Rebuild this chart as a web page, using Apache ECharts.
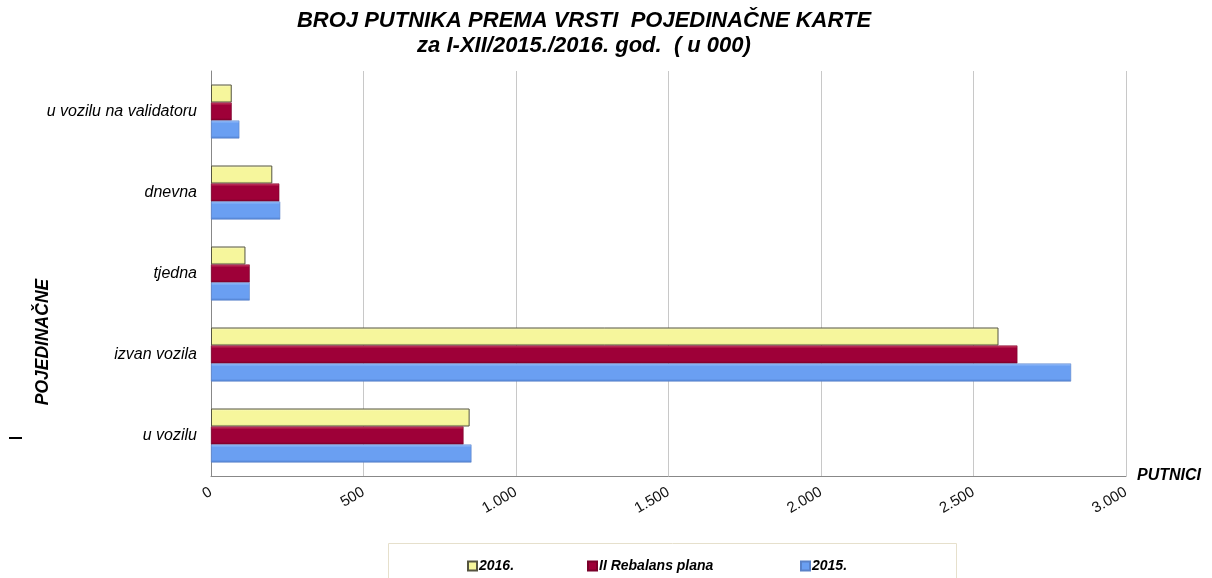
<!DOCTYPE html>
<html>
<head>
<meta charset="utf-8">
<script src="https://cdn.jsdelivr.net/npm/echarts@6/dist/echarts.min.js"></script>
<style>
  html, body { margin: 0; padding: 0; background: #fff; }
  #chart { width: 1212px; height: 578px; }
</style>
</head>
<body>
<div id="chart"></div>
<script>
// categories, bottom to top
const categories = ['u vozilu', 'izvan vozila', 'tjedna', 'dnevna', 'u vozilu na validatoru']
const s2016 = [848, 2582, 113, 201, 68]
const sRebalans = [828, 2644, 127, 224, 68]
const s2015 = [854, 2820, 127, 227, 93]
const seriesNames = ['2016.', 'II Rebalans plana', '2015.']

const font = 'Liberation Sans, Arial, sans-serif'

function grad(light, mid, dark) {
  return new echarts.graphic.LinearGradient(0, 0, 0, 1, [
    { offset: 0, color: light },
    { offset: 0.15, color: mid },
    { offset: 0.85, color: mid },
    { offset: 1, color: dark }
  ])
}

const legendText = { fontFamily: font, fontSize: 14, fontWeight: 'bold', fontStyle: 'italic', color: '#000', padding: [0, 0, 0, -3] }
const legendLeft = [467, 587, 800]

const chart = echarts.init(document.getElementById('chart'))
const option = {
  animation: false,
  textStyle: { fontFamily: font },
  title: {
    text: 'BROJ PUTNIKA PREMA VRSTI  POJEDINAČNE KARTE\nza I-XII/2015./2016. god.  ( u 000)',
    left: 579,
    textAlign: 'center',
    top: 3,
    textStyle: {
      fontFamily: font, fontSize: 22, fontWeight: 'bold', fontStyle: 'italic',
      color: '#000', lineHeight: 25
    }
  },
  legend: seriesNames.map((n, i) => ({
    data: [n],
    left: legendLeft[i],
    top: 559,
    padding: 0,
    itemWidth: 9,
    itemHeight: 9,
    icon: 'rect',
    textStyle: legendText
  })),
  graphic: [
    {
      type: 'rect',
      shape: { x: 388.5, y: 543.5, width: 568, height: 40 },
      style: { fill: 'none', stroke: '#e6e0cc', lineWidth: 1 }
    },
    {
      type: 'text',
      x: 43, y: 342,
      rotation: Math.PI / 2,
      style: {
        text: 'POJEDINAČNE', fill: '#000', align: 'center', verticalAlign: 'middle',
        font: 'italic bold 17.5px ' + font
      }
    },
    {
      type: 'rect',
      shape: { x: 9, y: 437, width: 13, height: 2 },
      style: { fill: '#000' }
    }
  ],
  grid: { left: 211, right: 86, top: 71, bottom: 102 },
  xAxis: {
    type: 'value',
    min: 0, max: 3000, interval: 500,
    name: 'PUTNICI',
    nameLocation: 'end',
    nameGap: 11,
    nameTextStyle: { fontFamily: font, fontSize: 16, fontWeight: 'bold', fontStyle: 'italic', color: '#000', verticalAlign: 'middle', padding: [4, 0, 0, 0] },
    axisLine: { show: true, lineStyle: { color: '#888' } },
    axisTick: { show: false },
    axisLabel: {
      rotate: 30, color: '#111', fontSize: 15, margin: 15,
      formatter: v => v >= 1000 ? Math.floor(v / 1000) + '.' + String(v % 1000).padStart(3, '0') : String(v)
    },
    splitLine: { show: true, lineStyle: { color: '#c8c8c8' } }
  },
  yAxis: {
    type: 'category',
    data: categories,
    axisLine: { show: true, lineStyle: { color: '#888' } },
    axisTick: { show: false },
    axisLabel: { color: '#000', fontSize: 16, fontStyle: 'italic', margin: 14 }
  },
  series: [
    {
      name: '2016.', type: 'bar', data: s2016, barWidth: 18, barGap: '0%', barCategoryGap: '33%',
      itemStyle: { color: grad('#fbfbd0', '#f6f69c', '#e4e48a'), borderColor: '#555540', borderWidth: 1 }
    },
    {
      name: 'II Rebalans plana', type: 'bar', data: sRebalans, barWidth: 18, barGap: '0%',
      itemStyle: { color: grad('#d8506f', '#9e0038', '#7a002a'), borderColor: '#7a002a', borderWidth: 0.6 }
    },
    {
      name: '2015.', type: 'bar', data: s2015, barWidth: 18, barGap: '0%',
      itemStyle: { color: grad('#a8cbff', '#6a9ff2', '#4f7fcf'), borderColor: '#5a82c8', borderWidth: 0.6 }
    }
  ]
}
chart.setOption(option)
</script>
</body>
</html>
